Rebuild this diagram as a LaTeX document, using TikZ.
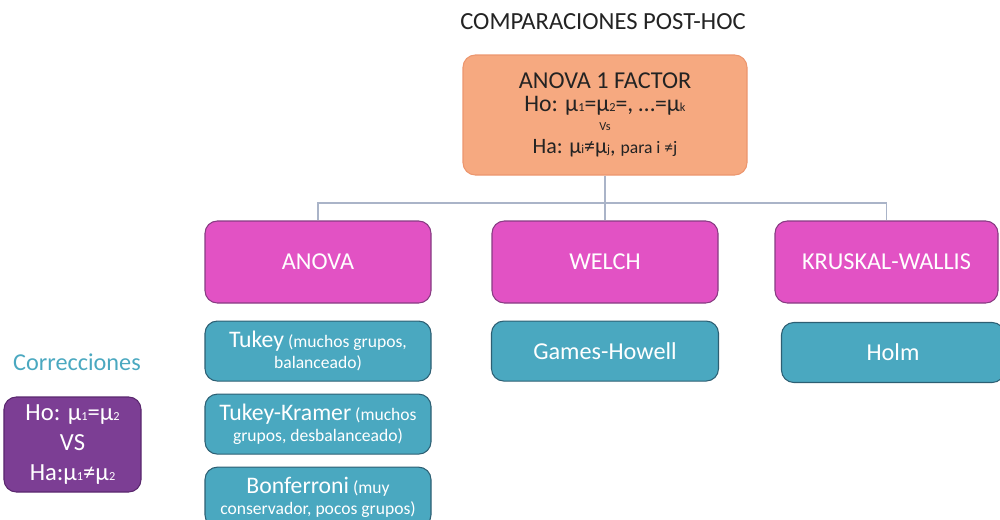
\documentclass[tikz,border=0pt]{standalone}
\usepackage{fontspec}
\setmainfont{Carlito}
\usetikzlibrary{positioning}
\definecolor{PHOrange}   {RGB}{246,169,128}
\definecolor{PHOrangeDk} {RGB}{236,150,110}
\definecolor{PHMagenta}  {RGB}{226,82,196}
\definecolor{PHMagentaDk}{RGB}{135,60,130}
\definecolor{PHTeal}     {RGB}{74,168,192}
\definecolor{PHTealDk}   {RGB}{45,95,115}
\definecolor{PHPurple}   {RGB}{124,62,148}
\definecolor{PHPurpleDk} {RGB}{90,40,110}
\definecolor{PHLine}     {RGB}{170,180,200}
\definecolor{PHText}     {RGB}{35,35,35}
\newcommand{\mus}[1]{μ{\scriptsize #1}}
\newcommand{\fs}[1]{\fontsize{#1}{#1pt}\selectfont}

\begin{document}
\begin{tikzpicture}[node distance=0.24cm,
  basebox/.style={rounded corners=7pt,align=center,line width=0.6pt,
                  inner sep=2pt},
  topbox/.style={basebox,draw=PHOrangeDk,fill=PHOrange,text=PHText,
                 minimum width=5.68cm,minimum height=2.4cm},
  testbox/.style={basebox,draw=PHMagentaDk,fill=PHMagenta,text=white,
                  minimum width=4.52cm,minimum height=1.64cm,
                  font=\fs{13.8}},
  corrbox/.style={basebox,draw=PHTealDk,fill=PHTeal,text=white,
                  minimum width=4.52cm,minimum height=1.2cm},
  hypbox/.style={basebox,draw=PHPurpleDk,fill=PHPurple,text=white,
                 minimum width=2.74cm,minimum height=1.9cm,font=\fs{14}},
  conn/.style={draw=PHLine,line width=0.6pt}]
  \useasboundingbox (0,0) rectangle (20,10.38);
  % title and main test
  \node[text=PHText,font=\fs{14}] (title) at (12.06,9.94)
        {COMPARACIONES POST-HOC};
  \node[topbox] (top) at (12.10,8.08)
        {{\fs{13.8}ANOVA 1 FACTOR}\\[1pt]
         {\fs{13.5}Ho: \mus{1}=\mus{2}=, …=\mus{k}}\\[-1pt]
         {\fs{7}Vs}\\[1pt]
         {\fs{12.5}Ha: \mus{i}≠\mus{j}, {\fs{10}para i ≠j}}};
  % omnibus tests
  \node[testbox] (anova) at (6.36,5.14) {ANOVA};
  \node[testbox] (welch) at (12.10,5.14) {WELCH};
  \node[testbox,minimum width=4.46cm] (kw) at (17.73,5.14)
        {KRUSKAL-WALLIS};
  % post-hoc corrections
  \node[corrbox,below=0.34cm of anova] (tukey)
        {{\fs{13.5}Tukey} {\fs{10}(muchos grupos,}\\
         {\fs{10}balanceado)}};
  \node[corrbox,below=of tukey] (tk)
        {{\fs{13.5}Tukey-Kramer} {\fs{10}(muchos}\\
         {\fs{10}grupos, desbalanceado)}};
  \node[corrbox,below=of tk] (bonf)
        {{\fs{13.5}Bonferroni} {\fs{10}(muy}\\
         {\fs{10}conservador, pocos grupos)}};
  \node[corrbox,below=0.34cm of welch,minimum width=4.54cm,
        font=\fs{13.8}] (gh) {Games-Howell};
  \node[corrbox,minimum width=4.46cm,font=\fs{13.8}] (holm)
        at (17.86,3.33) {Holm};
  % legend
  \node[text=PHTeal,font=\fs{13.8}] (corr) at (1.54,3.14) {Correcciones};
  \node[hypbox] (hyp) at (1.45,1.49)
        {Ho: \mus{1}=\mus{2}\\[3pt] VS\\[3pt] Ha:\mus{1}≠\mus{2}};
  % connectors
  \coordinate (hub) at (12.10,6.32);
  \draw[conn] (top) -- (hub);
  \draw[conn] (hub) -- (welch);
  \draw[conn] (anova.north) |- (hub) -| (kw.north);
\end{tikzpicture}
\end{document}
